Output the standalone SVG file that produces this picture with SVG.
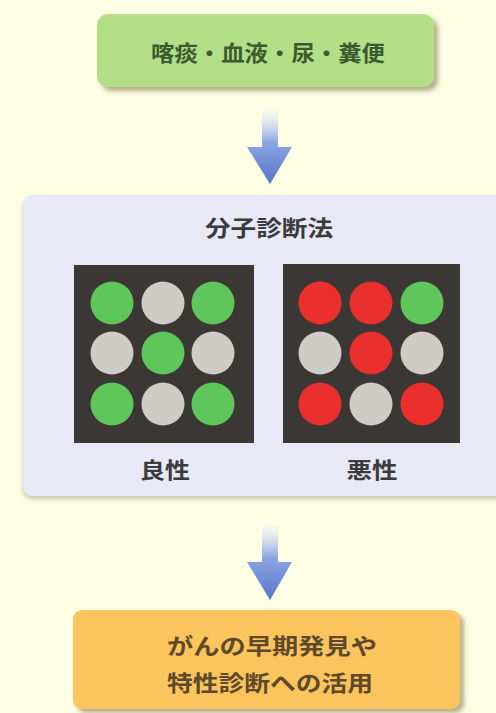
<svg xmlns="http://www.w3.org/2000/svg" width="496" height="713" viewBox="0 0 496 713">
<defs>
<style>
.t{font-family:"Noto Sans CJK JP","Noto Sans CJK SC",sans-serif;font-weight:700;text-anchor:middle}
.g{fill:#5ec65a}.s{fill:#cfccc8}.r{fill:#e9302c}
.panel{fill:#3b3735}
</style>
<linearGradient id="ag" x1="0" y1="0" x2="0" y2="1">
<stop offset="0" stop-color="#fafaff" stop-opacity="0.3"/>
<stop offset="0.45" stop-color="#8ea6e4"/>
<stop offset="1" stop-color="#5676cc"/>
</linearGradient>
<filter id="sh" x="-10%" y="-10%" width="125%" height="130%">
<feDropShadow dx="4" dy="4" stdDeviation="2" flood-color="#7d6f4a" flood-opacity="0.55"/>
</filter>
<filter id="sh2" x="-10%" y="-10%" width="125%" height="130%">
<feDropShadow dx="0" dy="3" stdDeviation="2" flood-color="#9a8f6a" flood-opacity="0.5"/>
</filter>
</defs>
<rect width="496" height="713" fill="#fcfde2"/>
<g id="connectors">
<path d="M262,107 H278 V147 H292 L270,184 L247,147 H262 Z" fill="url(#ag)"/>
<path d="M262,522 H278 V562 H292 L270,600 L247,562 H262 Z" fill="url(#ag)"/>
</g>
<g id="samples">
<rect x="97" y="14" width="337" height="73" rx="11" fill="#b3df89" filter="url(#sh)"/>
<text class="t" x="268" y="61" font-size="22" fill="#3d5a2e" textLength="234" lengthAdjust="spacingAndGlyphs">喀痰・血液・尿・糞便</text>
</g>
<g id="molecular">
<rect x="23" y="195" width="485" height="301" rx="9" fill="#e8e8f7" filter="url(#sh2)"/>
<text class="t" x="269" y="236" font-size="22" fill="#3b3b3b" textLength="128" lengthAdjust="spacingAndGlyphs">分子診断法</text>
<g id="benign">
<rect class="panel" x="74" y="265" width="180" height="178"/>
<circle class="g" cx="112" cy="303" r="21.5"/>
<circle class="s" cx="163" cy="303" r="21.5"/>
<circle class="g" cx="213" cy="303" r="21.5"/>
<circle class="s" cx="112" cy="353" r="21.5"/>
<circle class="g" cx="163" cy="353" r="21.5"/>
<circle class="s" cx="213" cy="353" r="21.5"/>
<circle class="g" cx="112" cy="404" r="21.5"/>
<circle class="s" cx="163" cy="404" r="21.5"/>
<circle class="g" cx="213" cy="404" r="21.5"/>
<text class="t" x="165" y="478" font-size="22" fill="#3b3b3b" textLength="50" lengthAdjust="spacingAndGlyphs">良性</text>
</g>
<g id="malignant">
<rect class="panel" x="283" y="264" width="177" height="179"/>
<circle class="r" cx="320" cy="303" r="21.5"/>
<circle class="r" cx="371" cy="303" r="21.5"/>
<circle class="g" cx="422" cy="303" r="21.5"/>
<circle class="s" cx="320" cy="353" r="21.5"/>
<circle class="r" cx="371" cy="353" r="21.5"/>
<circle class="s" cx="422" cy="353" r="21.5"/>
<circle class="r" cx="320" cy="404" r="21.5"/>
<circle class="s" cx="371" cy="404" r="21.5"/>
<circle class="r" cx="422" cy="404" r="21.5"/>
<text class="t" x="372" y="478" font-size="22" fill="#3b3b3b" textLength="51" lengthAdjust="spacingAndGlyphs">悪性</text>
</g>
</g>
<g id="application">
<rect x="73" y="610" width="387" height="99" rx="9" fill="#fcc45d" filter="url(#sh)"/>
<text class="t" x="272" y="654" font-size="22" fill="#5e4a2a" textLength="210" lengthAdjust="spacingAndGlyphs">がんの早期発見や</text>
<text class="t" x="270" y="691" font-size="22" fill="#5e4a2a" textLength="206" lengthAdjust="spacingAndGlyphs">特性診断への活用</text>
</g>
</svg>
